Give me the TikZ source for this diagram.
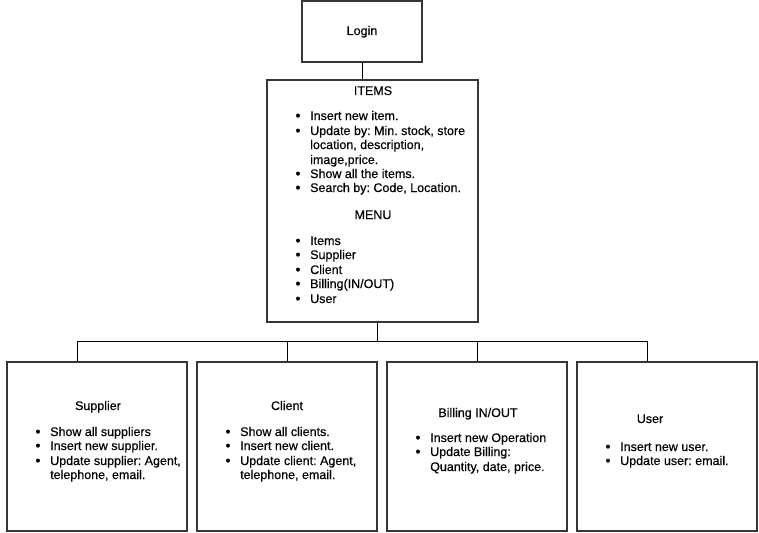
\documentclass[tikz,border=0pt]{standalone}
\usepackage{fontspec}
\setmainfont{Liberation Sans}[FakeBold=0.4]
\frenchspacing
\tikzset{
  box/.style={draw={rgb,255:red,55;green,55;blue,55}, line width=2pt, fill=white, inner sep=0pt},
  txt/.style={inner sep=0pt, anchor=west, text height=9pt, text depth=3pt, font=\fontsize{12.5}{14}\selectfont},
  ttl/.style={inner sep=0pt, anchor=center, text height=9pt, text depth=3pt, font=\fontsize{12.5}{14}\selectfont},
  bul/.style={inner sep=0pt, anchor=center, font=\fontsize{14}{14}\selectfont},
  conn/.style={draw=black, line width=1pt}
}
\newcommand\itm[4]{\node[bul] (#1b) at (#2-12,#3+1) {•}; \node[txt] (#1) at (#2,#3+1) {#4};}
\newcommand\cnt[4]{\node[txt] (#1) at (#2,#3+1) {#4};}
\begin{document}
\begin{tikzpicture}[x=1pt,y=-1pt]
\useasboundingbox (0,0) rectangle (759,532);
% boxes
\node[box, minimum width=120pt, minimum height=61pt] (login) at (362,31.5) {};
\node[box, minimum width=211pt, minimum height=242pt] (items) at (372.5,201) {};
\node[box, minimum width=180pt, minimum height=169pt] (sup) at (97,446.5) {};
\node[box, minimum width=180pt, minimum height=169pt] (cli) at (287,446.5) {};
\node[box, minimum width=180pt, minimum height=169pt] (bil) at (477,446.5) {};
\node[box, minimum width=180pt, minimum height=169pt] (usr) at (667,446.5) {};
% connectors
\coordinate (hub) at (377,341);
\coordinate (hs) at (77,341);
\coordinate (hu) at (647,341);
\draw[conn] (login.south) -- (login.south |- items.north);
\draw[conn] (items.south -| hub) -- (hub);
\draw[conn] (sup.north -| hs) -- (hs) -- (hu) -- (usr.north -| hu);
\draw[conn] (cli.north) -- (cli.north |- hub);
\draw[conn] (bil.north) -- (bil.north |- hub);
% login
\node[ttl] (logint) at (362,32) {Login};
% items
\node[ttl] (itemst) at (373,92) {ITEMS};
\itm{i1}{310}{116}{Insert new item.}
\itm{i2}{310}{131}{Update by: Min. stock, store}
\cnt{i3}{310}{145}{location, description,}
\cnt{i4}{310}{160}{image,price.}
\itm{i5}{310}{174}{Show all the items.}
\itm{i6}{310}{188}{Search by: Code, Location.}
\node[ttl] (menut) at (373,216) {MENU};
\itm{m1}{310}{241}{Items}
\itm{m2}{310}{255}{Supplier}
\itm{m3}{310}{270}{Client}
\itm{m4}{310}{284}{Billing(IN/OUT)}
\itm{m5}{310}{299}{User}
% supplier
\node[ttl] (supt) at (98,407) {Supplier};
\itm{s1}{50}{432}{Show all suppliers}
\itm{s2}{50}{446}{Insert new supplier.}
\itm{s3}{50}{461}{Update supplier: Agent,}
\cnt{s4}{50}{475}{telephone, email.}
% client
\node[ttl] (clit) at (287,407) {Client};
\itm{c1}{240}{432}{Show all clients.}
\itm{c2}{240}{446}{Insert new client.}
\itm{c3}{240}{461}{Update client: Agent,}
\cnt{c4}{240}{475}{telephone, email.}
% billing
\node[ttl] (bilt) at (478,414) {Billing IN/OUT};
\itm{b1}{430}{438}{Insert new Operation}
\itm{b2}{430}{452}{Update Billing:}
\cnt{b3}{430}{467}{Quantity, date, price.}
% user
\node[ttl] (usrt) at (650,420) {User};
\itm{u1}{620}{447}{Insert new user.}
\itm{u2}{620}{461}{Update user: email.}
\end{tikzpicture}
\end{document}
